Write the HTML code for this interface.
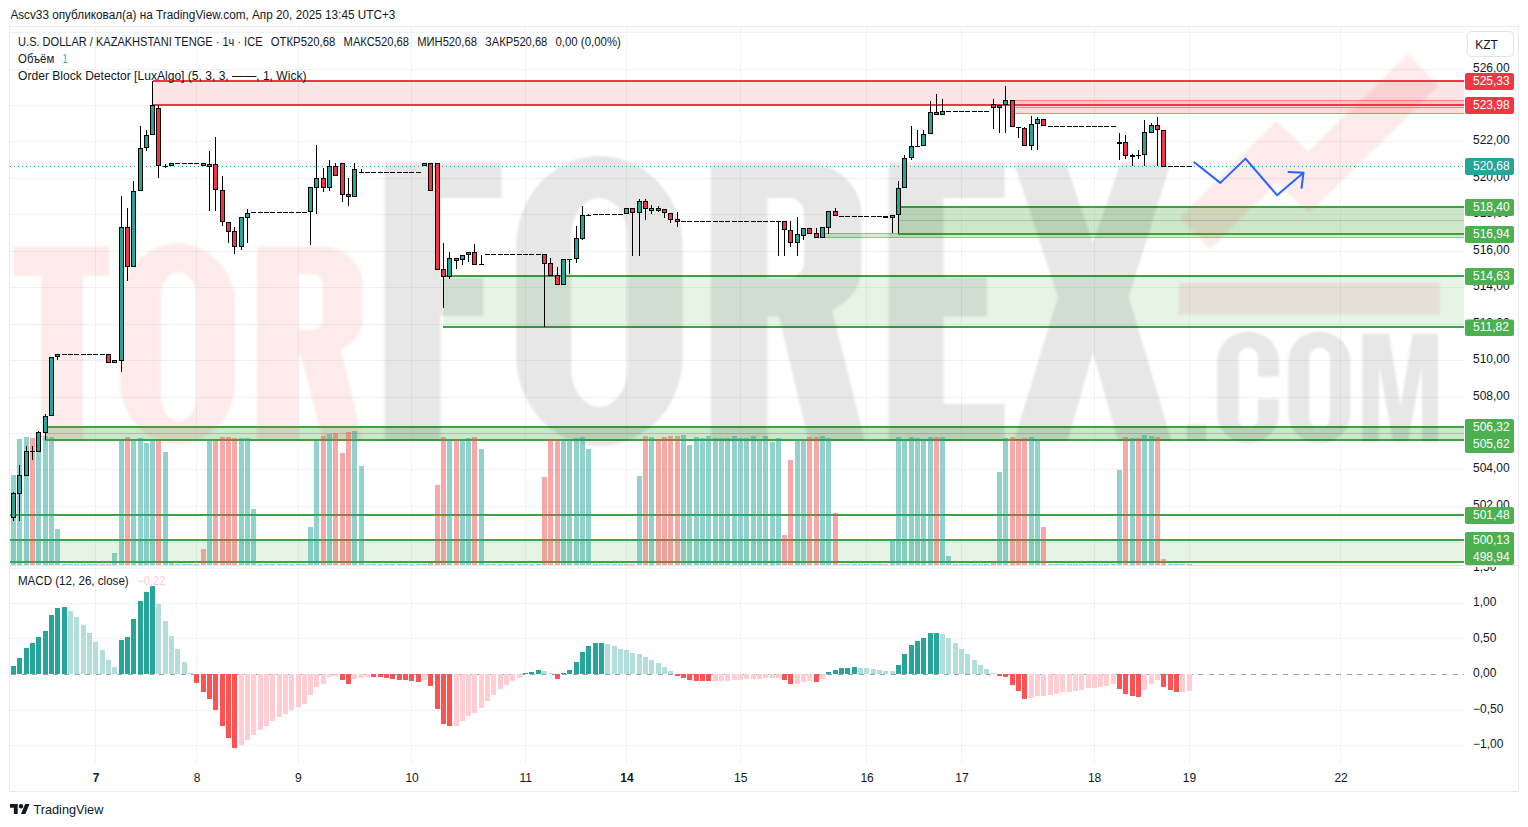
<!DOCTYPE html>
<html lang="ru"><head><meta charset="utf-8"><title>USDKZT chart</title>
<style>html,body{margin:0;padding:0;background:#fff}body{width:1528px;height:827px;overflow:hidden;position:relative;font-family:"Liberation Sans",sans-serif}svg{position:absolute;left:0;top:0;display:block}text{font-family:"Liberation Sans",sans-serif;font-size:12px;fill:#131722}.w{fill:#fff}</style></head><body>
<svg width="1528" height="827" viewBox="0 0 1528 827">
<rect x="0" y="0" width="1528" height="827" fill="#fff"/>
<defs><clipPath id="c15"><rect x="1465" y="567" width="60" height="20"/></clipPath><filter id="bl" filterUnits="userSpaceOnUse" x="0" y="0" width="1528" height="827"><feGaussianBlur stdDeviation="1"/></filter><clipPath id="cp"><rect x="10" y="27" width="1454" height="538.5"/></clipPath><clipPath id="cm"><rect x="10" y="27" width="1454" height="736"/></clipPath></defs>
<g shape-rendering="crispEdges" stroke="#f1f2f4" stroke-width="1"><line x1="95.5" y1="27" x2="95.5" y2="763"/><line x1="196.5" y1="27" x2="196.5" y2="763"/><line x1="298.5" y1="27" x2="298.5" y2="763"/><line x1="411.5" y1="27" x2="411.5" y2="763"/><line x1="525.5" y1="27" x2="525.5" y2="763"/><line x1="626.5" y1="27" x2="626.5" y2="763"/><line x1="740.5" y1="27" x2="740.5" y2="763"/><line x1="866.5" y1="27" x2="866.5" y2="763"/><line x1="961.5" y1="27" x2="961.5" y2="763"/><line x1="1094.5" y1="27" x2="1094.5" y2="763"/><line x1="1189.5" y1="27" x2="1189.5" y2="763"/><line x1="1340.5" y1="27" x2="1340.5" y2="763"/><line x1="10" y1="32.5" x2="1464" y2="32.5"/><line x1="10" y1="69.5" x2="1464" y2="69.5"/><line x1="10" y1="105.5" x2="1464" y2="105.5"/><line x1="10" y1="141.5" x2="1464" y2="141.5"/><line x1="10" y1="178.5" x2="1464" y2="178.5"/><line x1="10" y1="214.5" x2="1464" y2="214.5"/><line x1="10" y1="251.5" x2="1464" y2="251.5"/><line x1="10" y1="287.5" x2="1464" y2="287.5"/><line x1="10" y1="324.5" x2="1464" y2="324.5"/><line x1="10" y1="360.5" x2="1464" y2="360.5"/><line x1="10" y1="397.5" x2="1464" y2="397.5"/><line x1="10" y1="433.5" x2="1464" y2="433.5"/><line x1="10" y1="469.5" x2="1464" y2="469.5"/><line x1="10" y1="506.5" x2="1464" y2="506.5"/><line x1="10" y1="542.5" x2="1464" y2="542.5"/><line x1="10" y1="568.5" x2="1464" y2="568.5"/><line x1="10" y1="603.5" x2="1464" y2="603.5"/><line x1="10" y1="638.5" x2="1464" y2="638.5"/><line x1="10" y1="710.5" x2="1464" y2="710.5"/><line x1="10" y1="745.5" x2="1464" y2="745.5"/></g>
<g clip-path="url(#cp)"><rect x="152.64" y="81" width="1311.36" height="24" fill="rgba(242,54,69,0.13)"/><rect x="1012.16" y="100" width="451.84" height="14" fill="rgba(255,40,30,0.17)"/><rect x="1012.16" y="100" width="451.84" height="1" fill="#ff6a62" fill-opacity="0.75" shape-rendering="crispEdges"/><rect x="1012.16" y="113" width="451.84" height="1" fill="#ff6a62" fill-opacity="0.75" shape-rendering="crispEdges"/><rect x="1012.16" y="107" width="451.84" height="1" fill="#9598a1" fill-opacity="0.8" shape-rendering="crispEdges"/><rect x="152.64" y="80" width="1311.36" height="2" fill="#f23645" shape-rendering="crispEdges"/><rect x="152.64" y="104" width="1311.36" height="2" fill="#f23645" shape-rendering="crispEdges"/><rect x="898.4" y="207" width="565.6" height="27" fill="rgba(40,160,30,0.24)"/><rect x="898.4" y="220" width="565.6" height="1" fill="#9598a1" fill-opacity="0.5" shape-rendering="crispEdges"/><rect x="822.56" y="233" width="641.44" height="5" fill="rgba(40,160,30,0.20)"/><rect x="822.56" y="233" width="641.44" height="1" fill="#3ba53f" fill-opacity="0.45" shape-rendering="crispEdges"/><rect x="822.56" y="237" width="641.44" height="1" fill="#3ba53f" fill-opacity="0.45" shape-rendering="crispEdges"/><rect x="898.4" y="206" width="565.6" height="2" fill="#3ba53f" shape-rendering="crispEdges"/><rect x="898.4" y="233" width="565.6" height="2" fill="#3ba53f" shape-rendering="crispEdges"/><rect x="443.36" y="276" width="1020.64" height="51" fill="rgba(60,170,60,0.13)"/><rect x="443.36" y="275" width="1020.64" height="2" fill="#3ba53f" shape-rendering="crispEdges"/><rect x="443.36" y="326" width="1020.64" height="2" fill="#3ba53f" shape-rendering="crispEdges"/><rect x="45.2" y="427" width="1418.8" height="13" fill="rgba(40,160,30,0.24)"/><rect x="45.2" y="433" width="1418.8" height="1" fill="#9598a1" fill-opacity="0.5" shape-rendering="crispEdges"/><rect x="45.2" y="426" width="1418.8" height="2" fill="#3ba53f" shape-rendering="crispEdges"/><rect x="45.2" y="439" width="1418.8" height="2" fill="#3ba53f" shape-rendering="crispEdges"/><rect x="10" y="514" width="1454" height="2" fill="#3ba53f" shape-rendering="crispEdges"/><rect x="10" y="540" width="1454" height="22" fill="rgba(60,170,60,0.13)"/><rect x="10" y="539" width="1454" height="2" fill="#3ba53f" shape-rendering="crispEdges"/><rect x="10" y="561" width="1454" height="2" fill="#3ba53f" shape-rendering="crispEdges"/></g>
<g clip-path="url(#cp)"><g filter="url(#bl)"><path fill="rgba(235,60,60,0.105)" fill-rule="evenodd" d="M13.5 246.5 H109 V276 H83 V441 H41.5 V276 H13.5 Z M177.7 243.5 H177.8 A57.2 62 0 0 1 235 305.5 V382 A57.2 62 0 0 1 177.8 444 H177.7 A57.2 62 0 0 1 120.5 382 V305.5 A57.2 62 0 0 1 177.7 243.5 Z M178.5 272 H178.5 A17.7 24 0 0 1 196.2 296 V397 A17.7 24 0 0 1 178.5 421 H178.5 A17.7 24 0 0 1 160.8 397 V296 A17.7 24 0 0 1 178.5 272 Z M257 246.5 H322 A40 37 0 0 1 362 283.7 V318 A40 35 0 0 1 341 350 L362.5 441 H323 L301 354.5 H298.5 V441 H257 Z M298.5 274 H312 A11 11 0 0 1 323 285 V319 A11 11 0 0 1 312 330 H298.5 Z"/><path fill="rgba(0,0,0,0.095)" fill-rule="evenodd" d="M384.7 162.5 H501.6 V198 H440.4 V277.4 H483.4 V316 H440.4 V441 H384.7 Z M599.3 156 H599.7 A83 90 0 0 1 682.7 246 V356 A83 90 0 0 1 599.7 446 H599.3 A83 90 0 0 1 516.3 356 V246 A83 90 0 0 1 599.3 156 Z M599.2 198 H599.4 A28 38 0 0 1 627.4 236 V369 A28 38 0 0 1 599.4 407 H599.2 A28 38 0 0 1 571.2 369 V236 A28 38 0 0 1 599.2 198 Z M711 162.5 H803 A58.3 50 0 0 1 861.3 212.5 V268 A58 46 0 0 1 832 310 L865 441 H808.5 L779 316.5 H767.5 V441 H711 Z M767.5 198 H789 A15 15 0 0 1 804 213 V263 A15 15 0 0 1 789 278 H767.5 Z M888.5 162.5 H1004.6 V198 H943.7 V277 H987.2 V316.5 H943.7 V404 H1004.6 V441 H888.5 Z "/><path fill="rgba(0,0,0,0.095)" d="M1013.7 162.5 H1065.7 L1092.9 242.6 L1120.9 162.5 H1170.9 L1128.8 297 L1171.7 441 H1117.9 L1092.9 352.2 L1067.9 441 H1014 L1057.8 297 Z"/><path fill="rgba(0,0,0,0.095)" fill-rule="evenodd" d="M1186.5 424.5 H1206 V441 H1186.5 Z M1217.2 361.4 A30.9 30 0 0 1 1279 361.4 V376.4 H1257.9 V357 A9.65 9.5 0 0 0 1238.6 357 V418.5 A9.65 9.5 0 0 0 1257.9 418.5 V398.8 H1279 V413.7 A30.9 30 0 0 1 1217.2 413.7 Z M1319.25 331.4 H1319.25 A31.15 30 0 0 1 1350.4 361.4 V413.7 A31.15 30 0 0 1 1319.25 443.7 H1319.25 A31.15 30 0 0 1 1288.1 413.7 V361.4 A31.15 30 0 0 1 1319.25 331.4 Z M1319.55 347.5 H1319.55 A10.35 10 0 0 1 1329.9 357.5 V418 A10.35 10 0 0 1 1319.55 428 H1319.55 A10.35 10 0 0 1 1309.2 418 V357.5 A10.35 10 0 0 1 1319.55 347.5 Z M1362.3 333.7 H1389 L1400.5 406 L1412.5 333.7 H1438 V442 H1422 V365 L1408 442 H1393 L1379 365 V442 H1362.3 Z"/><rect x="1178.5" y="283" width="261.3" height="31.4" fill="rgba(215,70,55,0.105)"/><polyline points="1195,233.3 1276.5,152 1308.5,182.3 1423.5,70" fill="none" stroke="rgba(235,60,60,0.105)" stroke-width="44" stroke-linejoin="miter" stroke-miterlimit="10"/></g></g>
<g shape-rendering="crispEdges"><rect x="11" y="475" width="5" height="90" fill="rgba(38,166,154,0.5)"/><rect x="17" y="439" width="5" height="126" fill="rgba(38,166,154,0.5)"/><rect x="24" y="437" width="5" height="128" fill="rgba(38,166,154,0.5)"/><rect x="30" y="438" width="5" height="127" fill="rgba(239,83,80,0.5)"/><rect x="36" y="437" width="5" height="128" fill="rgba(38,166,154,0.5)"/><rect x="43" y="436" width="5" height="129" fill="rgba(38,166,154,0.5)"/><rect x="49" y="437" width="5" height="128" fill="rgba(38,166,154,0.5)"/><rect x="55" y="529" width="5" height="36" fill="rgba(38,166,154,0.5)"/><rect x="62" y="563.5" width="5" height="1.5" fill="rgba(38,166,154,0.5)"/><rect x="68" y="563.5" width="5" height="1.5" fill="rgba(38,166,154,0.5)"/><rect x="74" y="563.5" width="5" height="1.5" fill="rgba(38,166,154,0.5)"/><rect x="81" y="563.5" width="5" height="1.5" fill="rgba(38,166,154,0.5)"/><rect x="87" y="563.5" width="5" height="1.5" fill="rgba(38,166,154,0.5)"/><rect x="93" y="563.5" width="5" height="1.5" fill="rgba(38,166,154,0.5)"/><rect x="100" y="563.5" width="5" height="1.5" fill="rgba(38,166,154,0.5)"/><rect x="106" y="563.5" width="5" height="1.5" fill="rgba(239,83,80,0.5)"/><rect x="112" y="553" width="5" height="12" fill="rgba(38,166,154,0.5)"/><rect x="119" y="439" width="5" height="126" fill="rgba(38,166,154,0.5)"/><rect x="125" y="437" width="5" height="128" fill="rgba(239,83,80,0.5)"/><rect x="131" y="439" width="5" height="126" fill="rgba(38,166,154,0.5)"/><rect x="138" y="438" width="5" height="127" fill="rgba(38,166,154,0.5)"/><rect x="144" y="443" width="5" height="122" fill="rgba(38,166,154,0.5)"/><rect x="150" y="440" width="5" height="125" fill="rgba(38,166,154,0.5)"/><rect x="156" y="441" width="5" height="124" fill="rgba(239,83,80,0.5)"/><rect x="163" y="452" width="5" height="113" fill="rgba(38,166,154,0.5)"/><rect x="169" y="563" width="5" height="2" fill="rgba(38,166,154,0.5)"/><rect x="175" y="563.5" width="5" height="1.5" fill="rgba(38,166,154,0.5)"/><rect x="182" y="563.5" width="5" height="1.5" fill="rgba(38,166,154,0.5)"/><rect x="188" y="563.5" width="5" height="1.5" fill="rgba(38,166,154,0.5)"/><rect x="194" y="563.5" width="5" height="1.5" fill="rgba(38,166,154,0.5)"/><rect x="201" y="549" width="5" height="16" fill="rgba(239,83,80,0.5)"/><rect x="207" y="439" width="5" height="126" fill="rgba(38,166,154,0.5)"/><rect x="213" y="441" width="5" height="124" fill="rgba(239,83,80,0.5)"/><rect x="220" y="437" width="5" height="128" fill="rgba(239,83,80,0.5)"/><rect x="226" y="437" width="5" height="128" fill="rgba(239,83,80,0.5)"/><rect x="232" y="438" width="5" height="127" fill="rgba(239,83,80,0.5)"/><rect x="239" y="438" width="5" height="127" fill="rgba(38,166,154,0.5)"/><rect x="245" y="438" width="5" height="127" fill="rgba(38,166,154,0.5)"/><rect x="251" y="509" width="5" height="56" fill="rgba(38,166,154,0.5)"/><rect x="258" y="563.5" width="5" height="1.5" fill="rgba(38,166,154,0.5)"/><rect x="264" y="563.5" width="5" height="1.5" fill="rgba(38,166,154,0.5)"/><rect x="270" y="563.5" width="5" height="1.5" fill="rgba(38,166,154,0.5)"/><rect x="277" y="563.5" width="5" height="1.5" fill="rgba(38,166,154,0.5)"/><rect x="283" y="563.5" width="5" height="1.5" fill="rgba(38,166,154,0.5)"/><rect x="289" y="563.5" width="5" height="1.5" fill="rgba(38,166,154,0.5)"/><rect x="296" y="563.5" width="5" height="1.5" fill="rgba(38,166,154,0.5)"/><rect x="302" y="563.5" width="5" height="1.5" fill="rgba(38,166,154,0.5)"/><rect x="308" y="527" width="5" height="38" fill="rgba(38,166,154,0.5)"/><rect x="314" y="441" width="5" height="124" fill="rgba(38,166,154,0.5)"/><rect x="321" y="436" width="5" height="129" fill="rgba(239,83,80,0.5)"/><rect x="327" y="434" width="5" height="131" fill="rgba(38,166,154,0.5)"/><rect x="333" y="433" width="5" height="132" fill="rgba(239,83,80,0.5)"/><rect x="340" y="453" width="5" height="112" fill="rgba(239,83,80,0.5)"/><rect x="346" y="432" width="5" height="133" fill="rgba(239,83,80,0.5)"/><rect x="352" y="431" width="5" height="134" fill="rgba(38,166,154,0.5)"/><rect x="359" y="466" width="5" height="99" fill="rgba(38,166,154,0.5)"/><rect x="365" y="563.5" width="5" height="1.5" fill="rgba(38,166,154,0.5)"/><rect x="371" y="563.5" width="5" height="1.5" fill="rgba(38,166,154,0.5)"/><rect x="378" y="563.5" width="5" height="1.5" fill="rgba(38,166,154,0.5)"/><rect x="384" y="563.5" width="5" height="1.5" fill="rgba(38,166,154,0.5)"/><rect x="390" y="563.5" width="5" height="1.5" fill="rgba(38,166,154,0.5)"/><rect x="397" y="563.5" width="5" height="1.5" fill="rgba(38,166,154,0.5)"/><rect x="403" y="563.5" width="5" height="1.5" fill="rgba(38,166,154,0.5)"/><rect x="409" y="563.5" width="5" height="1.5" fill="rgba(38,166,154,0.5)"/><rect x="416" y="563.5" width="5" height="1.5" fill="rgba(38,166,154,0.5)"/><rect x="422" y="563.5" width="5" height="1.5" fill="rgba(38,166,154,0.5)"/><rect x="428" y="563" width="5" height="2" fill="rgba(239,83,80,0.5)"/><rect x="435" y="485" width="5" height="80" fill="rgba(239,83,80,0.5)"/><rect x="441" y="437" width="5" height="128" fill="rgba(239,83,80,0.5)"/><rect x="447" y="439" width="5" height="126" fill="rgba(38,166,154,0.5)"/><rect x="454" y="439" width="5" height="126" fill="rgba(239,83,80,0.5)"/><rect x="460" y="439" width="5" height="126" fill="rgba(38,166,154,0.5)"/><rect x="466" y="438" width="5" height="127" fill="rgba(38,166,154,0.5)"/><rect x="472" y="437" width="5" height="128" fill="rgba(239,83,80,0.5)"/><rect x="479" y="449" width="5" height="116" fill="rgba(38,166,154,0.5)"/><rect x="485" y="563.5" width="5" height="1.5" fill="rgba(38,166,154,0.5)"/><rect x="491" y="563.5" width="5" height="1.5" fill="rgba(38,166,154,0.5)"/><rect x="498" y="563.5" width="5" height="1.5" fill="rgba(38,166,154,0.5)"/><rect x="504" y="563.5" width="5" height="1.5" fill="rgba(38,166,154,0.5)"/><rect x="510" y="563.5" width="5" height="1.5" fill="rgba(38,166,154,0.5)"/><rect x="517" y="563.5" width="5" height="1.5" fill="rgba(38,166,154,0.5)"/><rect x="523" y="563.5" width="5" height="1.5" fill="rgba(38,166,154,0.5)"/><rect x="529" y="563.5" width="5" height="1.5" fill="rgba(38,166,154,0.5)"/><rect x="536" y="563.5" width="5" height="1.5" fill="rgba(38,166,154,0.5)"/><rect x="542" y="477" width="5" height="88" fill="rgba(239,83,80,0.5)"/><rect x="548" y="439" width="5" height="126" fill="rgba(239,83,80,0.5)"/><rect x="555" y="439" width="5" height="126" fill="rgba(239,83,80,0.5)"/><rect x="561" y="439" width="5" height="126" fill="rgba(38,166,154,0.5)"/><rect x="567" y="439" width="5" height="126" fill="rgba(38,166,154,0.5)"/><rect x="574" y="438" width="5" height="127" fill="rgba(38,166,154,0.5)"/><rect x="580" y="437" width="5" height="128" fill="rgba(38,166,154,0.5)"/><rect x="586" y="449" width="5" height="116" fill="rgba(38,166,154,0.5)"/><rect x="593" y="563.5" width="5" height="1.5" fill="rgba(38,166,154,0.5)"/><rect x="599" y="563.5" width="5" height="1.5" fill="rgba(38,166,154,0.5)"/><rect x="605" y="563.5" width="5" height="1.5" fill="rgba(38,166,154,0.5)"/><rect x="612" y="563.5" width="5" height="1.5" fill="rgba(38,166,154,0.5)"/><rect x="618" y="563.5" width="5" height="1.5" fill="rgba(38,166,154,0.5)"/><rect x="624" y="563.5" width="5" height="1.5" fill="rgba(38,166,154,0.5)"/><rect x="630" y="563.5" width="5" height="1.5" fill="rgba(239,83,80,0.5)"/><rect x="637" y="476" width="5" height="89" fill="rgba(38,166,154,0.5)"/><rect x="643" y="436" width="5" height="129" fill="rgba(239,83,80,0.5)"/><rect x="649" y="437" width="5" height="128" fill="rgba(38,166,154,0.5)"/><rect x="656" y="439" width="5" height="126" fill="rgba(239,83,80,0.5)"/><rect x="662" y="437" width="5" height="128" fill="rgba(239,83,80,0.5)"/><rect x="668" y="436" width="5" height="129" fill="rgba(239,83,80,0.5)"/><rect x="675" y="436" width="5" height="129" fill="rgba(239,83,80,0.5)"/><rect x="681" y="435" width="5" height="130" fill="rgba(38,166,154,0.5)"/><rect x="687" y="445" width="5" height="120" fill="rgba(38,166,154,0.5)"/><rect x="694" y="437" width="5" height="128" fill="rgba(38,166,154,0.5)"/><rect x="700" y="438" width="5" height="127" fill="rgba(38,166,154,0.5)"/><rect x="706" y="436" width="5" height="129" fill="rgba(38,166,154,0.5)"/><rect x="713" y="438" width="5" height="127" fill="rgba(38,166,154,0.5)"/><rect x="719" y="438" width="5" height="127" fill="rgba(38,166,154,0.5)"/><rect x="725" y="438" width="5" height="127" fill="rgba(38,166,154,0.5)"/><rect x="732" y="436" width="5" height="129" fill="rgba(38,166,154,0.5)"/><rect x="738" y="438" width="5" height="127" fill="rgba(38,166,154,0.5)"/><rect x="744" y="438" width="5" height="127" fill="rgba(38,166,154,0.5)"/><rect x="751" y="436" width="5" height="129" fill="rgba(38,166,154,0.5)"/><rect x="757" y="439" width="5" height="126" fill="rgba(38,166,154,0.5)"/><rect x="763" y="436" width="5" height="129" fill="rgba(38,166,154,0.5)"/><rect x="770" y="442" width="5" height="123" fill="rgba(38,166,154,0.5)"/><rect x="776" y="438" width="5" height="127" fill="rgba(38,166,154,0.5)"/><rect x="782" y="535" width="5" height="30" fill="rgba(239,83,80,0.5)"/><rect x="788" y="460" width="5" height="105" fill="rgba(239,83,80,0.5)"/><rect x="795" y="439" width="5" height="126" fill="rgba(38,166,154,0.5)"/><rect x="801" y="439" width="5" height="126" fill="rgba(38,166,154,0.5)"/><rect x="807" y="437" width="5" height="128" fill="rgba(239,83,80,0.5)"/><rect x="814" y="437" width="5" height="128" fill="rgba(239,83,80,0.5)"/><rect x="820" y="436" width="5" height="129" fill="rgba(38,166,154,0.5)"/><rect x="826" y="438" width="5" height="127" fill="rgba(38,166,154,0.5)"/><rect x="833" y="513" width="5" height="52" fill="rgba(239,83,80,0.5)"/><rect x="839" y="563.5" width="5" height="1.5" fill="rgba(38,166,154,0.5)"/><rect x="845" y="563.5" width="5" height="1.5" fill="rgba(38,166,154,0.5)"/><rect x="852" y="563.5" width="5" height="1.5" fill="rgba(38,166,154,0.5)"/><rect x="858" y="563.5" width="5" height="1.5" fill="rgba(38,166,154,0.5)"/><rect x="864" y="563.5" width="5" height="1.5" fill="rgba(38,166,154,0.5)"/><rect x="871" y="563.5" width="5" height="1.5" fill="rgba(38,166,154,0.5)"/><rect x="877" y="563.5" width="5" height="1.5" fill="rgba(38,166,154,0.5)"/><rect x="883" y="563.5" width="5" height="1.5" fill="rgba(239,83,80,0.5)"/><rect x="890" y="541" width="5" height="24" fill="rgba(38,166,154,0.5)"/><rect x="896" y="437" width="5" height="128" fill="rgba(38,166,154,0.5)"/><rect x="902" y="439" width="5" height="126" fill="rgba(38,166,154,0.5)"/><rect x="909" y="437" width="5" height="128" fill="rgba(38,166,154,0.5)"/><rect x="915" y="438" width="5" height="127" fill="rgba(38,166,154,0.5)"/><rect x="921" y="439" width="5" height="126" fill="rgba(38,166,154,0.5)"/><rect x="928" y="437" width="5" height="128" fill="rgba(38,166,154,0.5)"/><rect x="934" y="437" width="5" height="128" fill="rgba(239,83,80,0.5)"/><rect x="940" y="437" width="5" height="128" fill="rgba(38,166,154,0.5)"/><rect x="946" y="556" width="5" height="9" fill="rgba(38,166,154,0.5)"/><rect x="953" y="563.5" width="5" height="1.5" fill="rgba(38,166,154,0.5)"/><rect x="959" y="563.5" width="5" height="1.5" fill="rgba(38,166,154,0.5)"/><rect x="965" y="563.5" width="5" height="1.5" fill="rgba(38,166,154,0.5)"/><rect x="972" y="563.5" width="5" height="1.5" fill="rgba(38,166,154,0.5)"/><rect x="978" y="563.5" width="5" height="1.5" fill="rgba(38,166,154,0.5)"/><rect x="984" y="563.5" width="5" height="1.5" fill="rgba(38,166,154,0.5)"/><rect x="991" y="563" width="5" height="2" fill="rgba(239,83,80,0.5)"/><rect x="997" y="472" width="5" height="93" fill="rgba(38,166,154,0.5)"/><rect x="1003" y="438" width="5" height="127" fill="rgba(38,166,154,0.5)"/><rect x="1010" y="437" width="5" height="128" fill="rgba(239,83,80,0.5)"/><rect x="1016" y="440" width="5" height="125" fill="rgba(239,83,80,0.5)"/><rect x="1022" y="438" width="5" height="127" fill="rgba(239,83,80,0.5)"/><rect x="1029" y="437" width="5" height="128" fill="rgba(38,166,154,0.5)"/><rect x="1035" y="439" width="5" height="126" fill="rgba(38,166,154,0.5)"/><rect x="1041" y="527" width="5" height="38" fill="rgba(239,83,80,0.5)"/><rect x="1048" y="563.5" width="5" height="1.5" fill="rgba(38,166,154,0.5)"/><rect x="1054" y="563.5" width="5" height="1.5" fill="rgba(38,166,154,0.5)"/><rect x="1060" y="563.5" width="5" height="1.5" fill="rgba(38,166,154,0.5)"/><rect x="1067" y="563.5" width="5" height="1.5" fill="rgba(38,166,154,0.5)"/><rect x="1073" y="563.5" width="5" height="1.5" fill="rgba(38,166,154,0.5)"/><rect x="1079" y="563.5" width="5" height="1.5" fill="rgba(38,166,154,0.5)"/><rect x="1086" y="563.5" width="5" height="1.5" fill="rgba(38,166,154,0.5)"/><rect x="1092" y="563.5" width="5" height="1.5" fill="rgba(38,166,154,0.5)"/><rect x="1098" y="563.5" width="5" height="1.5" fill="rgba(38,166,154,0.5)"/><rect x="1104" y="563.5" width="5" height="1.5" fill="rgba(38,166,154,0.5)"/><rect x="1111" y="563.5" width="5" height="1.5" fill="rgba(38,166,154,0.5)"/><rect x="1117" y="470" width="5" height="95" fill="rgba(38,166,154,0.5)"/><rect x="1123" y="437" width="5" height="128" fill="rgba(239,83,80,0.5)"/><rect x="1130" y="438" width="5" height="127" fill="rgba(38,166,154,0.5)"/><rect x="1136" y="438" width="5" height="127" fill="rgba(239,83,80,0.5)"/><rect x="1142" y="435" width="5" height="130" fill="rgba(38,166,154,0.5)"/><rect x="1149" y="436" width="5" height="129" fill="rgba(38,166,154,0.5)"/><rect x="1155" y="437" width="5" height="128" fill="rgba(239,83,80,0.5)"/><rect x="1161" y="559" width="5" height="6" fill="rgba(239,83,80,0.5)"/><rect x="1168" y="563.5" width="5" height="1.5" fill="rgba(38,166,154,0.5)"/><rect x="1174" y="563.5" width="5" height="1.5" fill="rgba(38,166,154,0.5)"/><rect x="1180" y="563.5" width="5" height="1.5" fill="rgba(38,166,154,0.5)"/><rect x="1187" y="563.5" width="5" height="1.5" fill="rgba(38,166,154,0.5)"/></g>
<line x1="10" y1="166.5" x2="1464" y2="166.5" stroke="#26a69a" stroke-width="1" stroke-dasharray="1 3" shape-rendering="crispEdges"/>
<g shape-rendering="crispEdges"><rect x="13" y="492" width="1" height="29" fill="#000"/><rect x="11" y="493" width="5" height="25" fill="#000"/><rect x="12" y="494" width="3" height="23" fill="#26a69a"/><rect x="19" y="465" width="1" height="56" fill="#000"/><rect x="17" y="475" width="5" height="19" fill="#000"/><rect x="18" y="476" width="3" height="17" fill="#26a69a"/><rect x="26" y="446" width="1" height="30" fill="#000"/><rect x="24" y="451" width="5" height="25" fill="#000"/><rect x="25" y="452" width="3" height="23" fill="#26a69a"/><rect x="32" y="446" width="1" height="14" fill="#000"/><rect x="30" y="451" width="5" height="1" fill="#000"/><rect x="38" y="431" width="1" height="21" fill="#000"/><rect x="36" y="432" width="5" height="20" fill="#000"/><rect x="37" y="433" width="3" height="18" fill="#26a69a"/><rect x="45" y="414" width="1" height="26" fill="#000"/><rect x="43" y="416" width="5" height="17" fill="#000"/><rect x="44" y="417" width="3" height="15" fill="#26a69a"/><rect x="51" y="357" width="1" height="59" fill="#000"/><rect x="49" y="357" width="5" height="59" fill="#000"/><rect x="50" y="358" width="3" height="57" fill="#26a69a"/><rect x="57" y="354" width="1" height="6" fill="#000"/><rect x="55" y="354" width="5" height="3" fill="#000"/><rect x="56" y="355" width="3" height="1" fill="#26a69a"/><rect x="62" y="354" width="5" height="1" fill="#000"/><rect x="68" y="354" width="5" height="1" fill="#000"/><rect x="74" y="354" width="5" height="1" fill="#000"/><rect x="81" y="354" width="5" height="1" fill="#000"/><rect x="87" y="354" width="5" height="1" fill="#000"/><rect x="93" y="354" width="5" height="1" fill="#000"/><rect x="100" y="354" width="5" height="1" fill="#000"/><rect x="108" y="354" width="1" height="9" fill="#000"/><rect x="106" y="354" width="5" height="9" fill="#000"/><rect x="107" y="355" width="3" height="7" fill="#f23645"/><rect x="114" y="360" width="1" height="3" fill="#000"/><rect x="112" y="360" width="5" height="3" fill="#000"/><rect x="113" y="361" width="3" height="1" fill="#26a69a"/><rect x="121" y="196" width="1" height="176" fill="#000"/><rect x="119" y="227" width="5" height="134" fill="#000"/><rect x="120" y="228" width="3" height="132" fill="#26a69a"/><rect x="127" y="208" width="1" height="73" fill="#000"/><rect x="125" y="227" width="5" height="40" fill="#000"/><rect x="126" y="228" width="3" height="38" fill="#f23645"/><rect x="133" y="181" width="1" height="86" fill="#000"/><rect x="131" y="191" width="5" height="76" fill="#000"/><rect x="132" y="192" width="3" height="74" fill="#26a69a"/><rect x="140" y="126" width="1" height="65" fill="#000"/><rect x="138" y="148" width="5" height="43" fill="#000"/><rect x="139" y="149" width="3" height="41" fill="#26a69a"/><rect x="146" y="130" width="1" height="21" fill="#000"/><rect x="144" y="135" width="5" height="13" fill="#000"/><rect x="145" y="136" width="3" height="11" fill="#26a69a"/><rect x="152" y="81" width="1" height="54" fill="#000"/><rect x="150" y="105" width="5" height="30" fill="#000"/><rect x="151" y="106" width="3" height="28" fill="#26a69a"/><rect x="158" y="105" width="1" height="73" fill="#000"/><rect x="156" y="108" width="5" height="58" fill="#000"/><rect x="157" y="109" width="3" height="56" fill="#f23645"/><rect x="165" y="164" width="1" height="4" fill="#000"/><rect x="163" y="166" width="5" height="1" fill="#000"/><rect x="171" y="163" width="1" height="3" fill="#000"/><rect x="169" y="163" width="5" height="3" fill="#000"/><rect x="170" y="164" width="3" height="1" fill="#26a69a"/><rect x="175" y="163" width="5" height="1" fill="#000"/><rect x="182" y="163" width="5" height="1" fill="#000"/><rect x="188" y="163" width="5" height="1" fill="#000"/><rect x="194" y="163" width="5" height="1" fill="#000"/><rect x="203" y="163" width="1" height="3" fill="#000"/><rect x="201" y="163" width="5" height="3" fill="#000"/><rect x="202" y="164" width="3" height="1" fill="#f23645"/><rect x="209" y="151" width="1" height="60" fill="#000"/><rect x="207" y="164" width="5" height="3" fill="#000"/><rect x="208" y="165" width="3" height="1" fill="#26a69a"/><rect x="215" y="137" width="1" height="74" fill="#000"/><rect x="213" y="164" width="5" height="26" fill="#000"/><rect x="214" y="165" width="3" height="24" fill="#f23645"/><rect x="222" y="176" width="1" height="50" fill="#000"/><rect x="220" y="190" width="5" height="32" fill="#000"/><rect x="221" y="191" width="3" height="30" fill="#f23645"/><rect x="228" y="222" width="1" height="21" fill="#000"/><rect x="226" y="222" width="5" height="10" fill="#000"/><rect x="227" y="223" width="3" height="8" fill="#f23645"/><rect x="234" y="227" width="1" height="27" fill="#000"/><rect x="232" y="231" width="5" height="16" fill="#000"/><rect x="233" y="232" width="3" height="14" fill="#f23645"/><rect x="241" y="218" width="1" height="32" fill="#000"/><rect x="239" y="217" width="5" height="30" fill="#000"/><rect x="240" y="218" width="3" height="28" fill="#26a69a"/><rect x="247" y="209" width="1" height="34" fill="#000"/><rect x="245" y="213" width="5" height="5" fill="#000"/><rect x="246" y="214" width="3" height="3" fill="#26a69a"/><rect x="251" y="212" width="5" height="1" fill="#000"/><rect x="258" y="212" width="5" height="1" fill="#000"/><rect x="264" y="212" width="5" height="1" fill="#000"/><rect x="270" y="212" width="5" height="1" fill="#000"/><rect x="277" y="212" width="5" height="1" fill="#000"/><rect x="283" y="212" width="5" height="1" fill="#000"/><rect x="289" y="212" width="5" height="1" fill="#000"/><rect x="296" y="212" width="5" height="1" fill="#000"/><rect x="302" y="212" width="5" height="1" fill="#000"/><rect x="310" y="187" width="1" height="58" fill="#000"/><rect x="308" y="187" width="5" height="25" fill="#000"/><rect x="309" y="188" width="3" height="23" fill="#26a69a"/><rect x="316" y="145" width="1" height="69" fill="#000"/><rect x="314" y="178" width="5" height="10" fill="#000"/><rect x="315" y="179" width="3" height="8" fill="#26a69a"/><rect x="323" y="168" width="1" height="24" fill="#000"/><rect x="321" y="178" width="5" height="10" fill="#000"/><rect x="322" y="179" width="3" height="8" fill="#f23645"/><rect x="329" y="160" width="1" height="31" fill="#000"/><rect x="327" y="166" width="5" height="22" fill="#000"/><rect x="328" y="167" width="3" height="20" fill="#26a69a"/><rect x="335" y="163" width="1" height="13" fill="#000"/><rect x="333" y="166" width="5" height="10" fill="#000"/><rect x="334" y="167" width="3" height="8" fill="#f23645"/><rect x="342" y="164" width="1" height="38" fill="#000"/><rect x="340" y="163" width="5" height="32" fill="#000"/><rect x="341" y="164" width="3" height="30" fill="#f23645"/><rect x="348" y="178" width="1" height="28" fill="#000"/><rect x="346" y="194" width="5" height="3" fill="#000"/><rect x="347" y="195" width="3" height="1" fill="#f23645"/><rect x="354" y="163" width="1" height="34" fill="#000"/><rect x="352" y="169" width="5" height="28" fill="#000"/><rect x="353" y="170" width="3" height="26" fill="#26a69a"/><rect x="361" y="169" width="1" height="3" fill="#000"/><rect x="359" y="172" width="5" height="1" fill="#000"/><rect x="365" y="172" width="5" height="1" fill="#000"/><rect x="371" y="172" width="5" height="1" fill="#000"/><rect x="378" y="172" width="5" height="1" fill="#000"/><rect x="384" y="172" width="5" height="1" fill="#000"/><rect x="390" y="172" width="5" height="1" fill="#000"/><rect x="397" y="172" width="5" height="1" fill="#000"/><rect x="403" y="172" width="5" height="1" fill="#000"/><rect x="409" y="172" width="5" height="1" fill="#000"/><rect x="416" y="172" width="5" height="1" fill="#000"/><rect x="424" y="164" width="1" height="2" fill="#000"/><rect x="422" y="163" width="5" height="3" fill="#000"/><rect x="423" y="164" width="3" height="1" fill="#26a69a"/><rect x="430" y="164" width="1" height="27" fill="#000"/><rect x="428" y="163" width="5" height="28" fill="#000"/><rect x="429" y="164" width="3" height="26" fill="#f23645"/><rect x="437" y="164" width="1" height="106" fill="#000"/><rect x="435" y="163" width="5" height="107" fill="#000"/><rect x="436" y="164" width="3" height="105" fill="#f23645"/><rect x="443" y="243" width="1" height="65" fill="#000"/><rect x="441" y="269" width="5" height="8" fill="#000"/><rect x="442" y="270" width="3" height="6" fill="#f23645"/><rect x="449" y="252" width="1" height="27" fill="#000"/><rect x="447" y="258" width="5" height="19" fill="#000"/><rect x="448" y="259" width="3" height="17" fill="#26a69a"/><rect x="456" y="258" width="1" height="11" fill="#000"/><rect x="454" y="258" width="5" height="3" fill="#000"/><rect x="455" y="259" width="3" height="1" fill="#f23645"/><rect x="462" y="255" width="1" height="10" fill="#000"/><rect x="460" y="255" width="5" height="5" fill="#000"/><rect x="461" y="256" width="3" height="3" fill="#26a69a"/><rect x="468" y="252" width="1" height="10" fill="#000"/><rect x="466" y="252" width="5" height="3" fill="#000"/><rect x="467" y="253" width="3" height="1" fill="#26a69a"/><rect x="474" y="244" width="1" height="21" fill="#000"/><rect x="472" y="252" width="5" height="13" fill="#000"/><rect x="473" y="253" width="3" height="11" fill="#f23645"/><rect x="481" y="255" width="1" height="9" fill="#000"/><rect x="479" y="264" width="5" height="1" fill="#000"/><rect x="485" y="254" width="5" height="1" fill="#000"/><rect x="491" y="254" width="5" height="1" fill="#000"/><rect x="498" y="254" width="5" height="1" fill="#000"/><rect x="504" y="254" width="5" height="1" fill="#000"/><rect x="510" y="254" width="5" height="1" fill="#000"/><rect x="517" y="254" width="5" height="1" fill="#000"/><rect x="523" y="254" width="5" height="1" fill="#000"/><rect x="529" y="254" width="5" height="1" fill="#000"/><rect x="536" y="254" width="5" height="1" fill="#000"/><rect x="544" y="254" width="1" height="73" fill="#000"/><rect x="542" y="254" width="5" height="10" fill="#000"/><rect x="543" y="255" width="3" height="8" fill="#f23645"/><rect x="550" y="258" width="1" height="18" fill="#000"/><rect x="548" y="263" width="5" height="13" fill="#000"/><rect x="549" y="264" width="3" height="11" fill="#f23645"/><rect x="557" y="267" width="1" height="18" fill="#000"/><rect x="555" y="275" width="5" height="10" fill="#000"/><rect x="556" y="276" width="3" height="8" fill="#f23645"/><rect x="563" y="259" width="1" height="26" fill="#000"/><rect x="561" y="259" width="5" height="26" fill="#000"/><rect x="562" y="260" width="3" height="24" fill="#26a69a"/><rect x="569" y="259" width="1" height="15" fill="#000"/><rect x="567" y="259" width="5" height="1" fill="#000"/><rect x="576" y="226" width="1" height="37" fill="#000"/><rect x="574" y="238" width="5" height="21" fill="#000"/><rect x="575" y="239" width="3" height="19" fill="#26a69a"/><rect x="582" y="206" width="1" height="34" fill="#000"/><rect x="580" y="215" width="5" height="24" fill="#000"/><rect x="581" y="216" width="3" height="22" fill="#26a69a"/><rect x="588" y="214" width="1" height="2" fill="#000"/><rect x="586" y="215" width="5" height="1" fill="#000"/><rect x="593" y="214" width="5" height="1" fill="#000"/><rect x="599" y="214" width="5" height="1" fill="#000"/><rect x="605" y="214" width="5" height="1" fill="#000"/><rect x="612" y="214" width="5" height="1" fill="#000"/><rect x="618" y="214" width="5" height="1" fill="#000"/><rect x="626" y="208" width="1" height="6" fill="#000"/><rect x="624" y="208" width="5" height="6" fill="#000"/><rect x="625" y="209" width="3" height="4" fill="#26a69a"/><rect x="632" y="208" width="1" height="48" fill="#000"/><rect x="630" y="208" width="5" height="5" fill="#000"/><rect x="631" y="209" width="3" height="3" fill="#f23645"/><rect x="639" y="199" width="1" height="57" fill="#000"/><rect x="637" y="201" width="5" height="12" fill="#000"/><rect x="638" y="202" width="3" height="10" fill="#26a69a"/><rect x="645" y="199" width="1" height="21" fill="#000"/><rect x="643" y="201" width="5" height="8" fill="#000"/><rect x="644" y="202" width="3" height="6" fill="#f23645"/><rect x="651" y="205" width="1" height="9" fill="#000"/><rect x="649" y="208" width="5" height="3" fill="#000"/><rect x="650" y="209" width="3" height="1" fill="#26a69a"/><rect x="658" y="206" width="1" height="6" fill="#000"/><rect x="656" y="208" width="5" height="3" fill="#000"/><rect x="657" y="209" width="3" height="1" fill="#f23645"/><rect x="664" y="209" width="1" height="9" fill="#000"/><rect x="662" y="209" width="5" height="4" fill="#000"/><rect x="663" y="210" width="3" height="2" fill="#f23645"/><rect x="670" y="213" width="1" height="10" fill="#000"/><rect x="668" y="213" width="5" height="7" fill="#000"/><rect x="669" y="214" width="3" height="5" fill="#f23645"/><rect x="677" y="212" width="1" height="15" fill="#000"/><rect x="675" y="219" width="5" height="3" fill="#000"/><rect x="676" y="220" width="3" height="1" fill="#f23645"/><rect x="681" y="221" width="5" height="1" fill="#000"/><rect x="687" y="221" width="5" height="1" fill="#000"/><rect x="694" y="221" width="5" height="1" fill="#000"/><rect x="700" y="221" width="5" height="1" fill="#000"/><rect x="706" y="221" width="5" height="1" fill="#000"/><rect x="713" y="221" width="5" height="1" fill="#000"/><rect x="719" y="221" width="5" height="1" fill="#000"/><rect x="725" y="221" width="5" height="1" fill="#000"/><rect x="732" y="221" width="5" height="1" fill="#000"/><rect x="738" y="221" width="5" height="1" fill="#000"/><rect x="744" y="221" width="5" height="1" fill="#000"/><rect x="751" y="221" width="5" height="1" fill="#000"/><rect x="757" y="221" width="5" height="1" fill="#000"/><rect x="763" y="221" width="5" height="1" fill="#000"/><rect x="770" y="221" width="5" height="1" fill="#000"/><rect x="778" y="221" width="1" height="35" fill="#000"/><rect x="776" y="221" width="5" height="1" fill="#000"/><rect x="784" y="221" width="1" height="35" fill="#000"/><rect x="782" y="221" width="5" height="9" fill="#000"/><rect x="783" y="222" width="3" height="7" fill="#f23645"/><rect x="790" y="221" width="1" height="26" fill="#000"/><rect x="788" y="230" width="5" height="13" fill="#000"/><rect x="789" y="231" width="3" height="11" fill="#f23645"/><rect x="797" y="217" width="1" height="39" fill="#000"/><rect x="795" y="234" width="5" height="9" fill="#000"/><rect x="796" y="235" width="3" height="7" fill="#26a69a"/><rect x="803" y="228" width="1" height="12" fill="#000"/><rect x="801" y="228" width="5" height="8" fill="#000"/><rect x="802" y="229" width="3" height="6" fill="#26a69a"/><rect x="809" y="228" width="1" height="6" fill="#000"/><rect x="807" y="228" width="5" height="6" fill="#000"/><rect x="808" y="229" width="3" height="4" fill="#f23645"/><rect x="816" y="228" width="1" height="10" fill="#000"/><rect x="814" y="233" width="5" height="5" fill="#000"/><rect x="815" y="234" width="3" height="3" fill="#f23645"/><rect x="822" y="228" width="1" height="10" fill="#000"/><rect x="820" y="227" width="5" height="11" fill="#000"/><rect x="821" y="228" width="3" height="9" fill="#26a69a"/><rect x="828" y="212" width="1" height="22" fill="#000"/><rect x="826" y="211" width="5" height="17" fill="#000"/><rect x="827" y="212" width="3" height="15" fill="#26a69a"/><rect x="835" y="208" width="1" height="8" fill="#000"/><rect x="833" y="211" width="5" height="5" fill="#000"/><rect x="834" y="212" width="3" height="3" fill="#f23645"/><rect x="839" y="216" width="5" height="1" fill="#000"/><rect x="845" y="216" width="5" height="1" fill="#000"/><rect x="852" y="216" width="5" height="1" fill="#000"/><rect x="858" y="216" width="5" height="1" fill="#000"/><rect x="864" y="216" width="5" height="1" fill="#000"/><rect x="871" y="216" width="5" height="1" fill="#000"/><rect x="877" y="216" width="5" height="1" fill="#000"/><rect x="883" y="216" width="5" height="2" fill="#000"/><rect x="892" y="215" width="1" height="18" fill="#000"/><rect x="890" y="215" width="5" height="3" fill="#000"/><rect x="891" y="216" width="3" height="1" fill="#26a69a"/><rect x="898" y="181" width="1" height="52" fill="#000"/><rect x="896" y="188" width="5" height="27" fill="#000"/><rect x="897" y="189" width="3" height="25" fill="#26a69a"/><rect x="904" y="155" width="1" height="33" fill="#000"/><rect x="902" y="158" width="5" height="30" fill="#000"/><rect x="903" y="159" width="3" height="28" fill="#26a69a"/><rect x="911" y="126" width="1" height="34" fill="#000"/><rect x="909" y="146" width="5" height="12" fill="#000"/><rect x="910" y="147" width="3" height="10" fill="#26a69a"/><rect x="917" y="130" width="1" height="16" fill="#000"/><rect x="915" y="146" width="5" height="1" fill="#000"/><rect x="923" y="130" width="1" height="16" fill="#000"/><rect x="921" y="134" width="5" height="12" fill="#000"/><rect x="922" y="135" width="3" height="10" fill="#26a69a"/><rect x="930" y="101" width="1" height="33" fill="#000"/><rect x="928" y="112" width="5" height="22" fill="#000"/><rect x="929" y="113" width="3" height="20" fill="#26a69a"/><rect x="936" y="94" width="1" height="21" fill="#000"/><rect x="934" y="112" width="5" height="3" fill="#000"/><rect x="935" y="113" width="3" height="1" fill="#f23645"/><rect x="942" y="99" width="1" height="16" fill="#000"/><rect x="940" y="111" width="5" height="4" fill="#000"/><rect x="941" y="112" width="3" height="2" fill="#26a69a"/><rect x="946" y="111" width="5" height="1" fill="#000"/><rect x="953" y="111" width="5" height="1" fill="#000"/><rect x="959" y="111" width="5" height="1" fill="#000"/><rect x="965" y="111" width="5" height="1" fill="#000"/><rect x="972" y="111" width="5" height="1" fill="#000"/><rect x="978" y="111" width="5" height="1" fill="#000"/><rect x="984" y="111" width="5" height="1" fill="#000"/><rect x="993" y="99" width="1" height="30" fill="#000"/><rect x="991" y="104" width="5" height="4" fill="#000"/><rect x="992" y="105" width="3" height="2" fill="#f23645"/><rect x="999" y="105" width="1" height="28" fill="#000"/><rect x="997" y="105" width="5" height="3" fill="#000"/><rect x="998" y="106" width="3" height="1" fill="#26a69a"/><rect x="1005" y="86" width="1" height="47" fill="#000"/><rect x="1003" y="100" width="5" height="5" fill="#000"/><rect x="1004" y="101" width="3" height="3" fill="#26a69a"/><rect x="1012" y="100" width="1" height="27" fill="#000"/><rect x="1010" y="100" width="5" height="27" fill="#000"/><rect x="1011" y="101" width="3" height="25" fill="#f23645"/><rect x="1018" y="127" width="1" height="11" fill="#000"/><rect x="1016" y="127" width="5" height="1" fill="#000"/><rect x="1024" y="127" width="1" height="19" fill="#000"/><rect x="1022" y="128" width="5" height="18" fill="#000"/><rect x="1023" y="129" width="3" height="16" fill="#f23645"/><rect x="1031" y="116" width="1" height="34" fill="#000"/><rect x="1029" y="124" width="5" height="22" fill="#000"/><rect x="1030" y="125" width="3" height="20" fill="#26a69a"/><rect x="1037" y="117" width="1" height="33" fill="#000"/><rect x="1035" y="119" width="5" height="5" fill="#000"/><rect x="1036" y="120" width="3" height="3" fill="#26a69a"/><rect x="1043" y="120" width="1" height="6" fill="#000"/><rect x="1041" y="119" width="5" height="7" fill="#000"/><rect x="1042" y="120" width="3" height="5" fill="#f23645"/><rect x="1048" y="126" width="5" height="1" fill="#000"/><rect x="1054" y="126" width="5" height="1" fill="#000"/><rect x="1060" y="126" width="5" height="1" fill="#000"/><rect x="1067" y="126" width="5" height="1" fill="#000"/><rect x="1073" y="126" width="5" height="1" fill="#000"/><rect x="1079" y="126" width="5" height="1" fill="#000"/><rect x="1086" y="126" width="5" height="1" fill="#000"/><rect x="1092" y="126" width="5" height="1" fill="#000"/><rect x="1098" y="126" width="5" height="1" fill="#000"/><rect x="1104" y="126" width="5" height="1" fill="#000"/><rect x="1111" y="126" width="5" height="1" fill="#000"/><rect x="1119" y="133" width="1" height="27" fill="#000"/><rect x="1117" y="142" width="5" height="2" fill="#000"/><rect x="1125" y="135" width="1" height="24" fill="#000"/><rect x="1123" y="142" width="5" height="14" fill="#000"/><rect x="1124" y="143" width="3" height="12" fill="#f23645"/><rect x="1132" y="154" width="1" height="12" fill="#000"/><rect x="1130" y="155" width="5" height="2" fill="#000"/><rect x="1138" y="150" width="1" height="9" fill="#000"/><rect x="1136" y="155" width="5" height="1" fill="#000"/><rect x="1144" y="120" width="1" height="46" fill="#000"/><rect x="1142" y="132" width="5" height="23" fill="#000"/><rect x="1143" y="133" width="3" height="21" fill="#26a69a"/><rect x="1151" y="123" width="1" height="10" fill="#000"/><rect x="1149" y="125" width="5" height="8" fill="#000"/><rect x="1150" y="126" width="3" height="6" fill="#26a69a"/><rect x="1157" y="117" width="1" height="49" fill="#000"/><rect x="1155" y="125" width="5" height="5" fill="#000"/><rect x="1156" y="126" width="3" height="3" fill="#f23645"/><rect x="1163" y="130" width="1" height="36" fill="#000"/><rect x="1161" y="130" width="5" height="37" fill="#000"/><rect x="1162" y="131" width="3" height="35" fill="#f23645"/><rect x="1168" y="166" width="5" height="1" fill="#000"/><rect x="1174" y="166" width="5" height="1" fill="#000"/><rect x="1180" y="166" width="5" height="1" fill="#000"/><rect x="1187" y="166" width="5" height="1" fill="#000"/></g>
<g fill="none" stroke="#2962ff" stroke-width="2" stroke-linejoin="round" stroke-linecap="round"><polyline points="1194.3,162.3 1220.3,182.9 1245.5,158.6 1277,195.2 1303.4,172.8"/><polyline points="1288.4,171.9 1303.4,172.8 1301.6,187.8"/></g>
<rect x="10" y="565" width="1508" height="1" fill="#e0e3eb" shape-rendering="crispEdges"/>
<line x1="11" y1="674.5" x2="1464" y2="674.5" stroke="#9e9e9e" stroke-width="1" stroke-dasharray="5 5.6" shape-rendering="crispEdges"/>
<g shape-rendering="crispEdges"><rect x="11" y="666" width="5" height="8" fill="#26a69a"/><rect x="17" y="658" width="5" height="16" fill="#26a69a"/><rect x="24" y="648" width="5" height="26" fill="#26a69a"/><rect x="30" y="643" width="5" height="31" fill="#26a69a"/><rect x="36" y="637" width="5" height="37" fill="#26a69a"/><rect x="43" y="631" width="5" height="43" fill="#26a69a"/><rect x="49" y="615" width="5" height="59" fill="#26a69a"/><rect x="55" y="608" width="5" height="66" fill="#26a69a"/><rect x="62" y="607" width="5" height="67" fill="#26a69a"/><rect x="68" y="611" width="5" height="63" fill="#b2dfdb"/><rect x="74" y="617" width="5" height="57" fill="#b2dfdb"/><rect x="81" y="625" width="5" height="49" fill="#b2dfdb"/><rect x="87" y="633" width="5" height="41" fill="#b2dfdb"/><rect x="93" y="642" width="5" height="32" fill="#b2dfdb"/><rect x="100" y="650" width="5" height="24" fill="#b2dfdb"/><rect x="106" y="660" width="5" height="14" fill="#b2dfdb"/><rect x="112" y="667" width="5" height="7" fill="#b2dfdb"/><rect x="119" y="640" width="5" height="34" fill="#26a69a"/><rect x="125" y="637" width="5" height="37" fill="#26a69a"/><rect x="131" y="619" width="5" height="55" fill="#26a69a"/><rect x="138" y="601" width="5" height="73" fill="#26a69a"/><rect x="144" y="592" width="5" height="82" fill="#26a69a"/><rect x="150" y="586" width="5" height="88" fill="#26a69a"/><rect x="156" y="604" width="5" height="70" fill="#b2dfdb"/><rect x="163" y="621" width="5" height="53" fill="#b2dfdb"/><rect x="169" y="636" width="5" height="38" fill="#b2dfdb"/><rect x="175" y="649" width="5" height="25" fill="#b2dfdb"/><rect x="182" y="662" width="5" height="12" fill="#b2dfdb"/><rect x="188" y="673" width="5" height="1" fill="#b2dfdb"/><rect x="194" y="674" width="5" height="9" fill="#ff5252"/><rect x="201" y="674" width="5" height="18" fill="#ff5252"/><rect x="207" y="674" width="5" height="25" fill="#ff5252"/><rect x="213" y="674" width="5" height="36" fill="#ff5252"/><rect x="220" y="674" width="5" height="52" fill="#ff5252"/><rect x="226" y="674" width="5" height="64" fill="#ff5252"/><rect x="232" y="674" width="5" height="74" fill="#ff5252"/><rect x="239" y="674" width="5" height="71" fill="#ffcdd2"/><rect x="245" y="674" width="5" height="66" fill="#ffcdd2"/><rect x="251" y="674" width="5" height="61" fill="#ffcdd2"/><rect x="258" y="674" width="5" height="56" fill="#ffcdd2"/><rect x="264" y="674" width="5" height="52" fill="#ffcdd2"/><rect x="270" y="674" width="5" height="47" fill="#ffcdd2"/><rect x="277" y="674" width="5" height="43" fill="#ffcdd2"/><rect x="283" y="674" width="5" height="40" fill="#ffcdd2"/><rect x="289" y="674" width="5" height="36" fill="#ffcdd2"/><rect x="296" y="674" width="5" height="33" fill="#ffcdd2"/><rect x="302" y="674" width="5" height="30" fill="#ffcdd2"/><rect x="308" y="674" width="5" height="21" fill="#ffcdd2"/><rect x="314" y="674" width="5" height="13" fill="#ffcdd2"/><rect x="321" y="674" width="5" height="10" fill="#ffcdd2"/><rect x="327" y="674" width="5" height="3" fill="#ffcdd2"/><rect x="333" y="674" width="5" height="2" fill="#ffcdd2"/><rect x="340" y="674" width="5" height="6" fill="#ff5252"/><rect x="346" y="674" width="5" height="10" fill="#ff5252"/><rect x="352" y="674" width="5" height="5" fill="#ffcdd2"/><rect x="359" y="674" width="5" height="4" fill="#ffcdd2"/><rect x="365" y="674" width="5" height="3" fill="#ffcdd2"/><rect x="371" y="674" width="5" height="3" fill="#ff5252"/><rect x="378" y="674" width="5" height="3" fill="#ff5252"/><rect x="384" y="674" width="5" height="4" fill="#ff5252"/><rect x="390" y="674" width="5" height="5" fill="#ff5252"/><rect x="397" y="674" width="5" height="6" fill="#ff5252"/><rect x="403" y="674" width="5" height="6" fill="#ff5252"/><rect x="409" y="674" width="5" height="7" fill="#ff5252"/><rect x="416" y="674" width="5" height="8" fill="#ff5252"/><rect x="422" y="674" width="5" height="6" fill="#ffcdd2"/><rect x="428" y="674" width="5" height="12" fill="#ff5252"/><rect x="435" y="674" width="5" height="35" fill="#ff5252"/><rect x="441" y="674" width="5" height="50" fill="#ff5252"/><rect x="447" y="674" width="5" height="52" fill="#ff5252"/><rect x="454" y="674" width="5" height="52" fill="#ffcdd2"/><rect x="460" y="674" width="5" height="47" fill="#ffcdd2"/><rect x="466" y="674" width="5" height="42" fill="#ffcdd2"/><rect x="472" y="674" width="5" height="39" fill="#ffcdd2"/><rect x="479" y="674" width="5" height="34" fill="#ffcdd2"/><rect x="485" y="674" width="5" height="27" fill="#ffcdd2"/><rect x="491" y="674" width="5" height="21" fill="#ffcdd2"/><rect x="498" y="674" width="5" height="15" fill="#ffcdd2"/><rect x="504" y="674" width="5" height="11" fill="#ffcdd2"/><rect x="510" y="674" width="5" height="7" fill="#ffcdd2"/><rect x="517" y="674" width="5" height="4" fill="#ffcdd2"/><rect x="523" y="673" width="5" height="1" fill="#26a69a"/><rect x="529" y="672" width="5" height="2" fill="#26a69a"/><rect x="536" y="670" width="5" height="4" fill="#26a69a"/><rect x="542" y="671" width="5" height="3" fill="#b2dfdb"/><rect x="548" y="673" width="5" height="1" fill="#b2dfdb"/><rect x="555" y="674" width="5" height="5" fill="#ff5252"/><rect x="561" y="673" width="5" height="1" fill="#26a69a"/><rect x="567" y="670" width="5" height="4" fill="#26a69a"/><rect x="574" y="662" width="5" height="12" fill="#26a69a"/><rect x="580" y="652" width="5" height="22" fill="#26a69a"/><rect x="586" y="646" width="5" height="28" fill="#26a69a"/><rect x="593" y="643" width="5" height="31" fill="#26a69a"/><rect x="599" y="643" width="5" height="31" fill="#26a69a"/><rect x="605" y="644" width="5" height="30" fill="#b2dfdb"/><rect x="612" y="646" width="5" height="28" fill="#b2dfdb"/><rect x="618" y="649" width="5" height="25" fill="#b2dfdb"/><rect x="624" y="650" width="5" height="24" fill="#b2dfdb"/><rect x="630" y="653" width="5" height="21" fill="#b2dfdb"/><rect x="637" y="654" width="5" height="20" fill="#b2dfdb"/><rect x="643" y="657" width="5" height="17" fill="#b2dfdb"/><rect x="649" y="660" width="5" height="14" fill="#b2dfdb"/><rect x="656" y="663" width="5" height="11" fill="#b2dfdb"/><rect x="662" y="667" width="5" height="7" fill="#b2dfdb"/><rect x="668" y="671" width="5" height="3" fill="#b2dfdb"/><rect x="675" y="674" width="5" height="2" fill="#ff5252"/><rect x="681" y="674" width="5" height="4" fill="#ff5252"/><rect x="687" y="674" width="5" height="6" fill="#ff5252"/><rect x="694" y="674" width="5" height="7" fill="#ff5252"/><rect x="700" y="674" width="5" height="7" fill="#ff5252"/><rect x="706" y="674" width="5" height="7" fill="#ff5252"/><rect x="713" y="674" width="5" height="7" fill="#ffcdd2"/><rect x="719" y="674" width="5" height="7" fill="#ffcdd2"/><rect x="725" y="674" width="5" height="7" fill="#ffcdd2"/><rect x="732" y="674" width="5" height="6" fill="#ffcdd2"/><rect x="738" y="674" width="5" height="6" fill="#ffcdd2"/><rect x="744" y="674" width="5" height="5" fill="#ffcdd2"/><rect x="751" y="674" width="5" height="5" fill="#ffcdd2"/><rect x="757" y="674" width="5" height="5" fill="#ffcdd2"/><rect x="763" y="674" width="5" height="4" fill="#ffcdd2"/><rect x="770" y="674" width="5" height="4" fill="#ffcdd2"/><rect x="776" y="674" width="5" height="4" fill="#ffcdd2"/><rect x="782" y="674" width="5" height="6" fill="#ff5252"/><rect x="788" y="674" width="5" height="10" fill="#ff5252"/><rect x="795" y="674" width="5" height="10" fill="#ffcdd2"/><rect x="801" y="674" width="5" height="8" fill="#ffcdd2"/><rect x="807" y="674" width="5" height="7" fill="#ffcdd2"/><rect x="814" y="674" width="5" height="8" fill="#ff5252"/><rect x="820" y="674" width="5" height="5" fill="#ffcdd2"/><rect x="826" y="672" width="5" height="2" fill="#26a69a"/><rect x="833" y="670" width="5" height="4" fill="#26a69a"/><rect x="839" y="668" width="5" height="6" fill="#26a69a"/><rect x="845" y="668" width="5" height="6" fill="#26a69a"/><rect x="852" y="667" width="5" height="7" fill="#26a69a"/><rect x="858" y="668" width="5" height="6" fill="#b2dfdb"/><rect x="864" y="668" width="5" height="6" fill="#b2dfdb"/><rect x="871" y="669" width="5" height="5" fill="#b2dfdb"/><rect x="877" y="670" width="5" height="4" fill="#b2dfdb"/><rect x="883" y="671" width="5" height="3" fill="#b2dfdb"/><rect x="890" y="671" width="5" height="3" fill="#b2dfdb"/><rect x="896" y="665" width="5" height="9" fill="#26a69a"/><rect x="902" y="654" width="5" height="20" fill="#26a69a"/><rect x="909" y="645" width="5" height="29" fill="#26a69a"/><rect x="915" y="641" width="5" height="33" fill="#26a69a"/><rect x="921" y="638" width="5" height="36" fill="#26a69a"/><rect x="928" y="633" width="5" height="41" fill="#26a69a"/><rect x="934" y="633" width="5" height="41" fill="#26a69a"/><rect x="940" y="634" width="5" height="40" fill="#b2dfdb"/><rect x="946" y="638" width="5" height="36" fill="#b2dfdb"/><rect x="953" y="643" width="5" height="31" fill="#b2dfdb"/><rect x="959" y="649" width="5" height="25" fill="#b2dfdb"/><rect x="965" y="654" width="5" height="20" fill="#b2dfdb"/><rect x="972" y="660" width="5" height="14" fill="#b2dfdb"/><rect x="978" y="665" width="5" height="9" fill="#b2dfdb"/><rect x="984" y="669" width="5" height="5" fill="#b2dfdb"/><rect x="991" y="673" width="5" height="1" fill="#b2dfdb"/><rect x="997" y="674" width="5" height="2" fill="#ff5252"/><rect x="1003" y="674" width="5" height="3" fill="#ff5252"/><rect x="1010" y="674" width="5" height="11" fill="#ff5252"/><rect x="1016" y="674" width="5" height="17" fill="#ff5252"/><rect x="1022" y="674" width="5" height="25" fill="#ff5252"/><rect x="1029" y="674" width="5" height="24" fill="#ffcdd2"/><rect x="1035" y="674" width="5" height="22" fill="#ffcdd2"/><rect x="1041" y="674" width="5" height="22" fill="#ffcdd2"/><rect x="1048" y="674" width="5" height="21" fill="#ffcdd2"/><rect x="1054" y="674" width="5" height="20" fill="#ffcdd2"/><rect x="1060" y="674" width="5" height="18" fill="#ffcdd2"/><rect x="1067" y="674" width="5" height="18" fill="#ffcdd2"/><rect x="1073" y="674" width="5" height="17" fill="#ffcdd2"/><rect x="1079" y="674" width="5" height="16" fill="#ffcdd2"/><rect x="1086" y="674" width="5" height="14" fill="#ffcdd2"/><rect x="1092" y="674" width="5" height="14" fill="#ffcdd2"/><rect x="1098" y="674" width="5" height="13" fill="#ffcdd2"/><rect x="1104" y="674" width="5" height="12" fill="#ffcdd2"/><rect x="1111" y="674" width="5" height="10" fill="#ffcdd2"/><rect x="1117" y="674" width="5" height="15" fill="#ff5252"/><rect x="1123" y="674" width="5" height="20" fill="#ff5252"/><rect x="1130" y="674" width="5" height="22" fill="#ff5252"/><rect x="1136" y="674" width="5" height="23" fill="#ff5252"/><rect x="1142" y="674" width="5" height="16" fill="#ffcdd2"/><rect x="1149" y="674" width="5" height="10" fill="#ffcdd2"/><rect x="1155" y="674" width="5" height="6" fill="#ffcdd2"/><rect x="1161" y="674" width="5" height="13" fill="#ff5252"/><rect x="1168" y="674" width="5" height="16" fill="#ff5252"/><rect x="1174" y="674" width="5" height="18" fill="#ff5252"/><rect x="1180" y="674" width="5" height="18" fill="#ffcdd2"/><rect x="1187" y="674" width="5" height="17" fill="#ffcdd2"/></g>
<text x="1473" y="72">526,00</text><text x="1473" y="108">524,00</text><text x="1473" y="144">522,00</text><text x="1473" y="181">520,00</text><text x="1473" y="217">518,00</text><text x="1473" y="254">516,00</text><text x="1473" y="290">514,00</text><text x="1473" y="327">512,00</text><text x="1473" y="363">510,00</text><text x="1473" y="400">508,00</text><text x="1473" y="436">506,00</text><text x="1473" y="472">504,00</text><text x="1473" y="509">502,00</text><text x="1473" y="545">500,00</text><text x="1473" y="571.4" clip-path="url(#c15)">1,50</text><text x="1473" y="605.7">1,00</text><text x="1473" y="641.8">0,50</text><text x="1473" y="677.1">0,00</text><text x="1473" y="712.7">−0,50</text><text x="1473" y="748.2">−1,00</text><text x="96.06" y="782" text-anchor="middle" font-weight="bold">7</text><text x="197.18" y="782" text-anchor="middle">8</text><text x="298.3" y="782" text-anchor="middle">9</text><text x="412.06" y="782" text-anchor="middle">10</text><text x="525.82" y="782" text-anchor="middle">11</text><text x="626.94" y="782" text-anchor="middle" font-weight="bold">14</text><text x="740.7" y="782" text-anchor="middle">15</text><text x="867.1" y="782" text-anchor="middle">16</text><text x="961.9" y="782" text-anchor="middle">17</text><text x="1094.62" y="782" text-anchor="middle">18</text><text x="1189.42" y="782" text-anchor="middle">19</text><text x="1341.1" y="782" text-anchor="middle">22</text>
<rect x="1465" y="73" width="49" height="17" rx="2" ry="2" fill="#f23645"/>
<text class="w" x="1473" y="85.1">525,33</text>
<rect x="1465" y="97" width="49" height="17" rx="2" ry="2" fill="#f23645"/>
<text class="w" x="1473" y="109.1">523,98</text>
<rect x="1465" y="158" width="49" height="17" rx="2" ry="2" fill="#26a69a"/>
<text class="w" x="1473" y="170.1">520,68</text>
<rect x="1465" y="199" width="49" height="17" rx="2" ry="2" fill="#4caf50"/>
<text class="w" x="1473" y="211.1">518,40</text>
<rect x="1465" y="226" width="49" height="17" rx="2" ry="2" fill="#4caf50"/>
<text class="w" x="1473" y="238.1">516,94</text>
<rect x="1465" y="268" width="49" height="17" rx="2" ry="2" fill="#4caf50"/>
<text class="w" x="1473" y="280.1">514,63</text>
<rect x="1465" y="319.5" width="49" height="16.5" rx="2" ry="2" fill="#4caf50"/>
<text class="w" x="1473" y="331.35">511,82</text>
<rect x="1465" y="419" width="49" height="34" rx="2" ry="2" fill="#4caf50"/>
<text class="w" x="1473" y="430.6">506,32</text>
<text class="w" x="1473" y="448.2">505,62</text>
<rect x="1465" y="507" width="49" height="17" rx="2" ry="2" fill="#4caf50"/>
<text class="w" x="1473" y="519.1">501,48</text>
<rect x="1465" y="532" width="49" height="33" rx="2" ry="2" fill="#4caf50"/>
<text class="w" x="1473" y="544.2">500,13</text>
<text class="w" x="1473" y="560.6">498,94</text>
<rect x="1467.5" y="31.5" width="46" height="25" rx="4" ry="4" fill="#fff" stroke="#e0e3eb" stroke-width="1"/>
<text x="1486.6" y="48.5" text-anchor="middle">KZT</text>
<rect x="9.5" y="26.5" width="1509" height="765" fill="none" stroke="#e9ebf0" stroke-width="1" shape-rendering="crispEdges"/>
<text x="10.4" y="18.7" textLength="384.9" lengthAdjust="spacingAndGlyphs">Ascv33 опубликовал(а) на TradingView.com, Апр 20, 2025 13:45 UTC+3</text>
<text x="18.1" y="45.5" textLength="244.4" lengthAdjust="spacingAndGlyphs">U.S. DOLLAR / KAZAKHSTANI TENGE · 1ч · ICE</text>
<text x="270.8" y="45.5" textLength="64.5" lengthAdjust="spacingAndGlyphs">ОТКР520,68</text>
<text x="343.6" y="45.5" textLength="65.4" lengthAdjust="spacingAndGlyphs">МАКС520,68</text>
<text x="417.2" y="45.5" textLength="59.7" lengthAdjust="spacingAndGlyphs">МИН520,68</text>
<text x="485.1" y="45.5" textLength="62.2" lengthAdjust="spacingAndGlyphs">ЗАКР520,68</text>
<text x="555.4" y="45.5" textLength="65.5" lengthAdjust="spacingAndGlyphs">0,00 (0,00%)</text>
<text x="18.1" y="62.5" textLength="36.1" lengthAdjust="spacingAndGlyphs">Объём</text>
<text x="62.7" y="62.5" textLength="4.6" lengthAdjust="spacingAndGlyphs" fill="#26a69a" style="fill:#26a69a">1</text>
<text x="18.1" y="79.8" textLength="288.4" lengthAdjust="spacingAndGlyphs">Order Block Detector [LuxAlgo] (5, 3, 3, ——, 1, Wick)</text>
<text x="17.9" y="585" textLength="110.8" lengthAdjust="spacingAndGlyphs">MACD (12, 26, close)</text>
<text x="137.2" y="585" textLength="28.2" lengthAdjust="spacingAndGlyphs" style="fill:#ffcdd2">−0,22</text>
<g transform="translate(10,801.8) scale(0.55)" fill="#131722"><path d="M14 22H7V11H0V4h14v18ZM28 22h-8l7.5-18h8L28 22Z"/><circle cx="20" cy="8" r="4"/></g>
<text x="33.4" y="813.8" textLength="70" lengthAdjust="spacingAndGlyphs" style="font-size:13px">TradingView</text>
</svg></body></html>
